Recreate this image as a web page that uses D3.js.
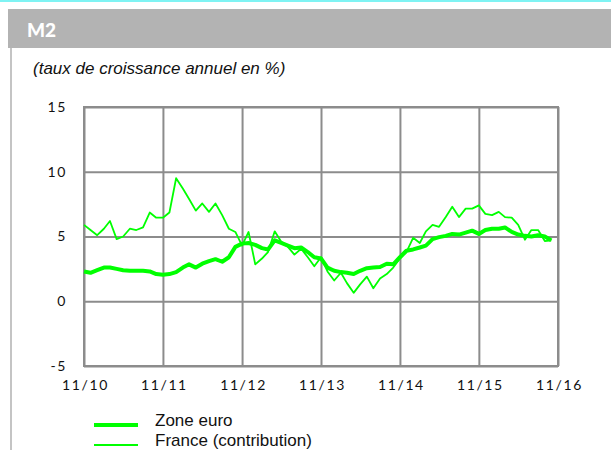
<!DOCTYPE html>
<html>
<head>
<meta charset="utf-8">
<script src="https://cdn.jsdelivr.net/npm/d3@7"></script>
<style>
  body { margin: 0; background: #fff; }
  svg { display: block; }
  .tick text { font-family: "Lato", sans-serif; font-size: 14px; letter-spacing: 1.6px; fill: #111; }
</style>
</head>
<body>
<svg id="chart" width="611" height="450"></svg>
<script>
// monthly data, 11/2010 -> 10/2016
const startMonth = new Date(2010, 10, 1);
const zoneEuro = [2.3, 2.2, 2.4, 2.6, 2.6, 2.5, 2.4, 2.35, 2.35, 2.35, 2.3, 2.1,
  2.05, 2.1, 2.25, 2.6, 2.85, 2.6, 2.9, 3.1, 3.25, 3.05, 3.4, 4.2,
  4.45, 4.5, 4.35, 4.1, 4.0, 4.7, 4.5, 4.3, 4.1, 4.15, 3.8, 3.4,
  3.3, 2.6, 2.35, 2.25, 2.2, 2.1, 2.35, 2.55, 2.6, 2.65, 2.9, 2.85,
  3.4, 3.9, 4.0, 4.15, 4.3, 4.8, 4.95, 5.05, 5.2, 5.15, 5.3, 5.45,
  5.2, 5.5, 5.6, 5.6, 5.7, 5.35, 5.15, 5.05, 5.0, 5.1, 5.0, 4.7];
const france = [5.9, 5.5, 5.1, 5.6, 6.2, 4.8, 5.0, 5.6, 5.5, 5.7, 6.85, 6.45,
  6.45, 6.85, 9.5, 8.7, 7.9, 7.0, 7.55, 6.9, 7.55, 6.65, 5.6, 5.35,
  4.3, 5.35, 2.85, 3.3, 3.8, 5.4, 4.6, 4.2, 3.6, 4.05, 3.4, 2.7,
  3.4, 2.3, 1.6, 2.2, 1.4, 0.65, 1.3, 1.9, 1.0, 1.75, 2.1, 2.6,
  3.3, 3.8, 4.9, 4.5, 5.4, 5.9, 5.75, 6.5, 7.3, 6.5, 7.15, 7.15,
  7.4, 6.75, 6.65, 6.9, 6.5, 6.45, 5.9, 4.75, 5.5, 5.5, 4.65, 4.7];
const yTicks = [-5, 0, 5, 10, 15];
const xTickYears = [2010, 2011, 2012, 2013, 2014, 2015, 2016];
const seriesNames = ["Zone euro", "France (contribution)"];

const svg = d3.select("#chart");

// page frame
svg.append("rect").attr("x", 0).attr("y", 0).attr("width", 611).attr("height", 2).attr("fill", "#7ff3f3");
svg.append("rect").attr("x", 8).attr("y", 9).attr("width", 603).attr("height", 39).attr("fill", "#b3b3b3");
svg.append("rect").attr("x", 10).attr("y", 48).attr("width", 2).attr("height", 402).attr("fill", "#c4c4c4");
svg.append("text").attr("x", 27).attr("y", 37).text("M2")
  .attr("font-family", "Lato, sans-serif").attr("font-weight", 900).attr("font-size", 19).attr("fill", "#fff");
svg.append("text").attr("x", 33).attr("y", 74).text("(taux de croissance annuel en %)")
  .attr("font-family", "Liberation Sans, Arial, sans-serif").attr("font-style", "italic").attr("font-size", 17).attr("fill", "#111");

const plotL = 84, plotR = 558, plotT = 107, plotB = 366;
const x = d3.scaleTime().domain([startMonth, new Date(2016, 10, 1)]).range([plotL, plotR]);
const y = d3.scaleLinear().domain([-5, 15]).range([plotB, plotT]);
const dates = zoneEuro.map((d, i) => d3.timeMonth.offset(startMonth, i));

const gridColor = "#8c8c8c";

// y grid + labels (plain hyphen for negatives)
const yAxis = svg.append("g").attr("transform", `translate(${plotL},0)`)
  .call(d3.axisLeft(y).tickValues(yTicks).tickFormat(d => String(d))
    .tickSize(-(plotR - plotL)).tickSizeOuter(0).tickPadding(17));
yAxis.select(".domain").remove();
yAxis.selectAll(".tick line").attr("stroke", gridColor).attr("stroke-width", 2);

// x grid + labels
const xAxis = svg.append("g").attr("transform", `translate(0,${plotB})`)
  .call(d3.axisBottom(x).tickValues(xTickYears.map(yr => new Date(yr, 10, 1)))
    .tickFormat(d3.timeFormat("%m/%y")).tickSize(-(plotB - plotT)).tickSizeOuter(0).tickPadding(14));
xAxis.select(".domain").remove();
xAxis.selectAll(".tick line").attr("stroke", gridColor).attr("stroke-width", 2);
xAxis.selectAll(".tick text").attr("dx", "1px");

svg.append("rect").attr("x", plotL).attr("y", plotT).attr("width", plotR - plotL).attr("height", plotB - plotT)
  .attr("fill", "none").attr("stroke", gridColor).attr("stroke-width", 2);

// lines
const line = d3.line().x((d, i) => x(dates[i])).y(d => y(d));
svg.append("path").datum(zoneEuro).attr("d", line)
  .attr("fill", "none").attr("stroke", "#00ff00").attr("stroke-width", 4).attr("stroke-linejoin", "round");
svg.append("path").datum(france).attr("d", line)
  .attr("fill", "none").attr("stroke", "#00ff00").attr("stroke-width", 1.8).attr("stroke-linejoin", "round");

// legend
const legend = svg.append("g");
seriesNames.forEach((name, i) => {
  const ly = 425 + i * 20;
  legend.append("line").attr("x1", 94).attr("x2", 138).attr("y1", ly).attr("y2", ly)
    .attr("stroke", "#00ff00").attr("stroke-width", i === 0 ? 4 : 2);
  legend.append("text").attr("x", 155).attr("y", ly + 1).text(name)
    .attr("font-family", "Liberation Sans, Arial, sans-serif").attr("font-size", 17).attr("fill", "#111");
});
</script>
</body>
</html>
